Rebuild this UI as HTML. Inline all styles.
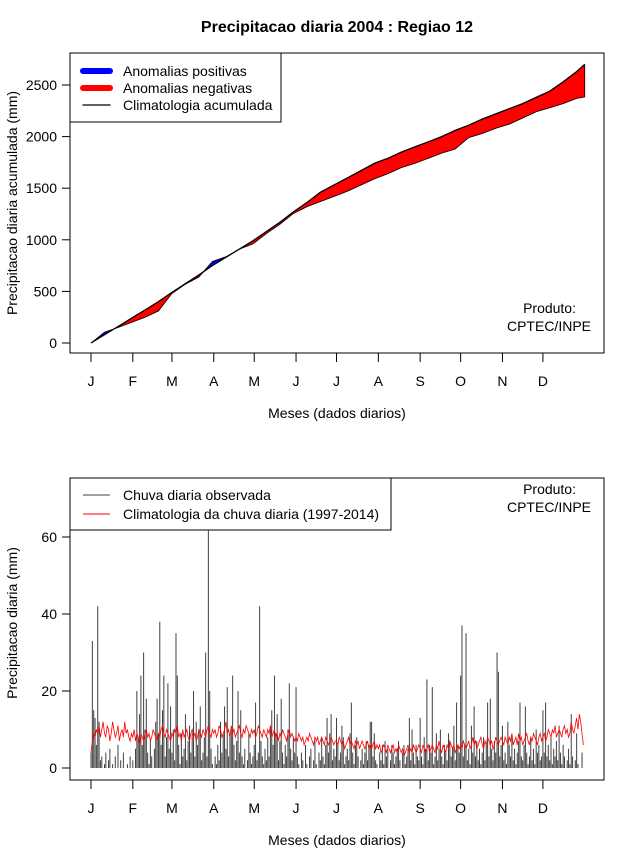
<!DOCTYPE html>
<html><head><meta charset="utf-8"><style>
html,body{margin:0;padding:0;background:#fff;}
svg{display:block;font-family:"Liberation Sans",Arial,sans-serif;}
</style></head><body>
<svg id="chart" width="640" height="850" viewBox="0 0 640 850" xmlns="http://www.w3.org/2000/svg">
<text x="337" y="32" text-anchor="middle" font-size="16" font-weight="bold">Precipitacao diaria 2004 : Regiao 12</text>
<g id="top"></g>
<g id="bot"></g>
</svg>
<script>
// ---- top panel data (accumulated, sampled every 10 days) ----
const accDays = [0,10,20,30,40,50,60,70,80,90,100,110,120,130,140,150,160,170,180,190,200,210,220,230,240,250,260,270,280,290,300,310,320,330,340,350,360,366];
const accClim = [0,80,160,240,320,400,490,575,660,750,830,910,990,1080,1170,1270,1360,1460,1530,1600,1670,1740,1790,1850,1900,1950,2000,2060,2110,2170,2220,2270,2320,2380,2440,2530,2630,2700];
const accObs = [0,105,150,200,250,310,480,570,640,790,835,910,960,1060,1150,1255,1320,1370,1420,1470,1530,1590,1640,1700,1740,1790,1840,1880,1990,2030,2080,2120,2180,2240,2280,2320,2370,2384];
const topTicks = [0,500,1000,1500,2000,2500];
const monthLabels = ["J","F","M","A","M","J","J","A","S","O","N","D"];
const monthStart = [0,31,60,91,121,152,182,213,244,274,305,335];
// ---- bottom panel data (daily) ----
const obsDaily = [
4,33,15,13,6,42,12,2,3,0,1,4,0,2,5,0,1,0,3,0,6,0,2,0,4,0,0,1,0,3,0,
2,0,5,20,8,14,24,6,30,10,18,4,1,7,3,0,5,12,18,9,38,6,15,24,3,8,22,5,16,
4,10,2,35,24,6,1,9,3,5,14,2,7,11,4,9,20,3,12,6,10,16,2,4,8,30,3,75,20,5,1,
0,3,1,6,2,12,4,9,16,5,21,3,8,10,24,6,2,7,20,4,15,3,1,5,0,2,9,4,1,3,
6,17,2,4,42,7,3,1,5,2,8,3,11,15,6,24,9,14,2,7,18,4,1,6,3,10,22,5,2,8,4,
21,3,1,0,4,2,0,6,1,0,3,5,0,2,7,1,0,4,2,8,3,1,6,13,4,9,14,2,5,3,
13,6,2,4,11,8,1,3,5,2,9,17,4,1,6,8,3,0,2,5,1,4,7,2,6,12,12,3,9,2,1,
0,4,2,6,1,7,3,5,0,2,6,4,1,3,5,7,2,0,4,6,1,3,5,13,2,10,4,1,6,3,2,
13,3,1,8,5,23,2,6,4,21,1,3,9,2,5,10,3,1,6,4,2,9,7,3,5,11,2,17,6,4,
24,37,3,6,35,2,5,1,11,4,16,3,7,2,5,1,4,8,2,6,17,3,18,5,2,7,4,30,25,3,6,
11,2,4,1,12,6,3,8,2,5,1,4,7,17,3,2,6,16,4,1,3,8,2,5,1,10,4,6,2,3,
15,4,17,3,6,2,8,1,5,3,7,2,11,4,1,6,3,0,2,5,1,14,3,0,2,9,1,0,0,4,0];
const climDaily = [
4,7,9,8,10,9,11,8,10,12,9,8,11,10,7,9,12,10,8,9,11,7,9,10,8,12,9,10,8,7,9,
8,10,7,9,8,6,9,8,7,9,10,8,9,7,8,10,9,8,7,9,8,10,11,9,8,10,9,8,7,
9,8,10,9,11,8,9,7,10,8,9,10,8,7,9,10,8,9,7,8,10,9,8,10,9,8,10,11,9,8,10,
9,10,8,9,11,10,8,9,10,12,9,10,8,11,9,10,8,9,10,11,9,8,10,9,11,10,9,8,10,9,
10,8,9,11,10,9,8,10,9,8,10,9,11,8,9,10,8,9,7,9,8,10,9,8,7,9,10,8,9,8,7,
8,7,9,8,7,8,6,7,8,7,9,8,7,6,8,7,8,6,7,8,7,6,8,7,6,7,8,7,6,7,
7,6,8,7,6,7,5,6,7,8,6,7,6,5,7,6,7,5,6,7,6,5,6,7,5,6,5,6,7,5,6,
5,6,4,5,6,5,4,6,5,4,5,6,4,5,4,6,5,4,5,3,4,5,6,4,5,4,6,5,4,5,6,
5,4,6,5,4,5,6,4,5,6,5,4,6,5,7,5,4,6,5,4,6,5,7,6,5,6,4,5,6,5,
6,5,7,6,5,6,7,5,6,8,6,7,5,6,7,8,6,5,7,6,8,7,6,7,5,6,8,7,6,7,8,
7,6,8,7,6,8,7,9,6,7,8,6,9,7,8,6,7,8,9,7,6,8,7,9,8,7,6,8,9,7,
8,9,7,8,10,9,8,10,9,11,8,9,10,9,8,10,11,9,10,8,9,12,10,9,11,13,10,14,12,9,6];
const botTicks = [0,20,40,60];

const NS="http://www.w3.org/2000/svg";
function mk(parent,tag,attrs,text){const e=document.createElementNS(NS,tag);for(const k in attrs)e.setAttribute(k,attrs[k]);if(text!==undefined)e.textContent=text;parent.appendChild(e);return e;}
const dayX = d => 91 + d*1.349;
const yTop = v => 343 - v*0.1032;
const yBot = v => 768 - v*3.85;

// ========== TOP PANEL ==========
const T=document.getElementById('top');
const defs=mk(document.getElementById('chart'),'defs',{});
const cp1=mk(defs,'clipPath',{id:'c1'});mk(cp1,'rect',{x:70,y:53,width:534,height:300});
const cp2=mk(defs,'clipPath',{id:'c2'});mk(cp2,'rect',{x:70,y:478,width:534,height:302});
const fillG=mk(T,'g',{'clip-path':'url(#c1)'});
for(let i=0;i<accDays.length-1;i++){
  const d0=accDays[i],d1=accDays[i+1];
  const a0=accObs[i]-accClim[i],a1=accObs[i+1]-accClim[i+1];
  const segs=[];
  if(a0*a1<0){const t=a0/(a0-a1);const dm=d0+t*(d1-d0);const vm=accClim[i]+t*(accClim[i+1]-accClim[i]);
    segs.push([[d0,accObs[i]],[dm,vm],[d0,accClim[i]],a0]);
    segs.push([[dm,vm],[d1,accObs[i+1]],[d1,accClim[i+1]],a1]);}
  else segs.push([[d0,accObs[i]],[d1,accObs[i+1]],[d1,accClim[i+1]],[d0,accClim[i]],(a0+a1)]);
  for(const s of segs){
    const sign=s.pop();if(sign===0)continue;
    const p=mk(fillG,'polygon',{points:s.map(q=>dayX(q[0]).toFixed(1)+','+yTop(q[1]).toFixed(1)).join(' '),fill:sign>0?'#0000ff':'#ff0000',stroke:sign>0?'#0000ff':'#ff0000','stroke-width':0.5});
    
    
  }
}
const obsLine=mk(fillG,'polyline',{points:accDays.map((d,i)=>dayX(d).toFixed(1)+','+yTop(accObs[i]).toFixed(1)).join(' '),fill:'none',stroke:'#000','stroke-width':0.8});


const climLine=mk(fillG,'polyline',{points:accDays.map((d,i)=>dayX(d).toFixed(1)+','+yTop(accClim[i]).toFixed(1)).join(' '),fill:'none',stroke:'#000','stroke-width':1.3});


const endL=mk(fillG,'line',{x1:dayX(366),x2:dayX(366),y1:yTop(accObs[accObs.length-1]),y2:yTop(accClim[accClim.length-1]),stroke:'#000','stroke-width':0.8});



function axes(G,top,bottom,ticks,yf,ytitle,ytitleY){
  const box=mk(G,'rect',{x:70,y:top,width:534,height:bottom-top,fill:'none',stroke:'#000','stroke-width':1});
  
  
  for(const t of ticks){
    const y=yf(t);
    const tl=mk(G,'line',{x1:62,x2:70,y1:y,y2:y,stroke:'#000'});
    
    
    const tx=mk(G,'text',{x:57,y:y+5,'text-anchor':'end','font-size':14},String(t));
    
    
  }
  monthStart.forEach((d,i)=>{
    const x=dayX(d);
    const tl=mk(G,'line',{x1:x,x2:x,y1:bottom,y2:bottom+9,stroke:'#000'});
    
    
    const tx=mk(G,'text',{x:x,y:bottom+33,'text-anchor':'middle','font-size':14},monthLabels[i]);
    
    
  });
  const xt=mk(G,'text',{x:337,y:bottom+65,'text-anchor':'middle','font-size':14},'Meses (dados diarios)');
  
  
  const yt=mk(G,'text',{x:17,y:ytitleY,'text-anchor':'middle','font-size':14,transform:'rotate(-90 17 '+ytitleY+')'},ytitle);
  
  
}
axes(T,53,353,topTicks,yTop,'Precipitacao diaria acumulada (mm)',203);

// top legend
const LG=mk(T,'g',{});


mk(LG,'rect',{x:70,y:53,width:211,height:69,fill:'#fff',stroke:'#000'});
[['#0000ff',6,'Anomalias positivas',71],['#ff0000',6,'Anomalias negativas',88],['#000',1.3,'Climatologia acumulada',105]].forEach(it=>{
  const g=mk(LG,'g',{});
  
  
  mk(g,'line',{x1:83,x2:110,y1:it[3],y2:it[3],stroke:it[0],'stroke-width':it[1],'stroke-linecap':'round'});
  mk(g,'text',{x:123,y:it[3]+5,'font-size':14},it[2]);
});
const p1=mk(T,'text',{x:576,y:313,'text-anchor':'end','font-size':14},'Produto:');


const p2=mk(T,'text',{x:591,y:331,'text-anchor':'end','font-size':14},'CPTEC/INPE');



// ========== BOTTOM PANEL ==========
const B=document.getElementById('bot');
const bg=mk(B,'g',{'clip-path':'url(#c2)'});
obsDaily.forEach((v,i)=>{
  const x=dayX(i);
  const b=mk(bg,'line',{x1:x,x2:x,y1:yBot(0),y2:yBot(v),stroke:'#404040','stroke-width':1});
  
  
});
const cl=mk(bg,'polyline',{points:climDaily.map((v,i)=>dayX(i).toFixed(1)+','+yBot(v).toFixed(1)).join(' '),fill:'none',stroke:'#ff0000','stroke-width':0.8});


axes(B,478,780,botTicks,yBot,'Precipitacao diaria (mm)',623);
const LG2=mk(B,'g',{});


mk(LG2,'rect',{x:70,y:478,width:321,height:52,fill:'#fff',stroke:'#000'});
[['#404040','Chuva diaria observada',495],['#ff0000','Climatologia da chuva diaria (1997-2014)',514]].forEach(it=>{
  const g=mk(LG2,'g',{});
  
  
  mk(g,'line',{x1:83,x2:110,y1:it[2],y2:it[2],stroke:it[0],'stroke-width':1});
  mk(g,'text',{x:123,y:it[2]+5,'font-size':14},it[1]);
});
const p3=mk(B,'text',{x:576,y:494,'text-anchor':'end','font-size':14},'Produto:');


const p4=mk(B,'text',{x:591,y:512,'text-anchor':'end','font-size':14},'CPTEC/INPE');


</script>
</body></html>
